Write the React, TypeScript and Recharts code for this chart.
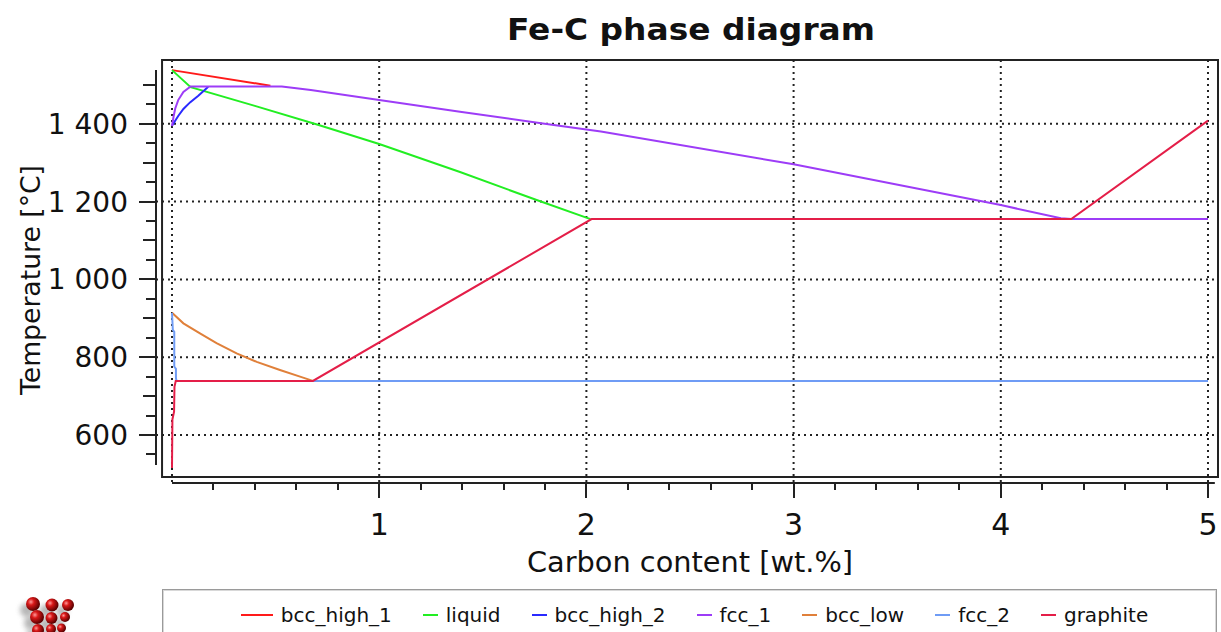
import React from "react";
import {
  LineChart,
  Line,
  XAxis,
  YAxis,
  CartesianGrid,
  ReferenceArea,
  ReferenceLine,
} from "recharts";

const SERIES_NAMES = ["bcc_high_1", "liquid", "bcc_high_2", "fcc_1", "bcc_low", "fcc_2", "graphite"];
const SERIES_COLORS = ["#ff1a1a", "#22ee22", "#2a2aff", "#9d3cf7", "#e0803a", "#6f9cf5", "#e41e48"];

// phase boundaries: carbon wt.% and temperature in degC
const BCC_HIGH_1_C = [0, 0.475];
const BCC_HIGH_1_T = [1538, 1498];
const LIQUID_C = [0, 0.09, 0.4, 0.7, 1.0, 1.39, 1.76, 2.02];
const LIQUID_T = [1538, 1494, 1446, 1398, 1348, 1276, 1204, 1155];
const BCC_HIGH_2_C = [0, 0.03, 0.055, 0.087, 0.127, 0.175];
const BCC_HIGH_2_T = [1395, 1420, 1438, 1455, 1472, 1495];
const FCC_1_C = [0, 0.008, 0.016, 0.03, 0.055, 0.09, 0.53, 0.67, 1.0, 1.39, 1.79, 2.07, 3.0, 4.0, 4.29, 4.34, 5.0];
const FCC_1_T = [1394, 1420, 1440, 1461, 1482, 1496, 1496, 1487, 1461, 1431, 1401, 1380, 1296, 1191, 1157, 1155, 1155];
const BCC_LOW_C = [0, 0.055, 0.135, 0.215, 0.312, 0.409, 0.521, 0.618, 0.68];
const BCC_LOW_T = [914, 887, 861, 836, 810, 788, 767, 750, 739];
const FCC_2_C = [0, 0.004, 0.011, 0.011, 0.019, 0.019, 0.022, 5.0];
const FCC_2_T = [914, 870, 865, 776, 770, 746, 739, 739];
const GRAPHITE_C = [0, 0.002, 0.01, 0.012, 0.018, 0.68, 2.025, 4.34, 5.0];
const GRAPHITE_T = [515, 640, 660, 724, 739, 739, 1155, 1155, 1408];

const X_LABEL_VALUES = [1, 2, 3, 4, 5];
const X_LABELS = ["1", "2", "3", "4", "5"];
const Y_LABEL_VALUES = [600, 800, 1000, 1200, 1400];
const Y_LABELS = ["600", "800", "1 000", "1 200", "1 400"];

const X_MIN = -0.0772;
const X_MAX = 5.0483;
const Y_MIN = 476.6;
const Y_MAX = 1564;

const xTicks = Array.from({ length: 25 }, (_, i) => Math.round((i + 1) * 2) / 10);
const yTicks = Array.from({ length: 20 }, (_, i) => 550 + i * 50);

const zip = (c: number[], t: number[]) => c.map((v, i) => ({ c: v, t: t[i] }));
const SERIES_DATA = [
  zip(BCC_HIGH_1_C, BCC_HIGH_1_T),
  zip(LIQUID_C, LIQUID_T),
  zip(BCC_HIGH_2_C, BCC_HIGH_2_T),
  zip(FCC_1_C, FCC_1_T),
  zip(BCC_LOW_C, BCC_LOW_T),
  zip(FCC_2_C, FCC_2_T),
  zip(GRAPHITE_C, GRAPHITE_T),
];

const FONT = "'DejaVu Sans', Tahoma, sans-serif";
const INK = "#222";

const XTick = (props: any) => {
  const { x, y, payload } = props;
  const v = payload.value;
  const idx = X_LABEL_VALUES.indexOf(v);
  const len = idx >= 0 ? 15 : 7;
  return (
    <g>
      <line x1={x} x2={x} y1={y} y2={y + len} stroke={INK} strokeWidth={2} shapeRendering="crispEdges" />
      {idx >= 0 && (
        <text x={x} y={y + 52} textAnchor="middle" fontSize={30} fontFamily={FONT} fill="#111">
          {X_LABELS[idx]}
        </text>
      )}
    </g>
  );
};

const YTick = (props: any) => {
  const { x, y, payload } = props;
  const v = payload.value;
  const idx = Y_LABEL_VALUES.indexOf(v);
  const len = idx >= 0 ? 17 : v % 100 === 0 ? 13 : 10;
  return (
    <g>
      <line x1={x - len} x2={x} y1={y} y2={y} stroke={INK} strokeWidth={2} shapeRendering="crispEdges" />
      {idx >= 0 && (
        <text x={x - 28} y={y + 10} textAnchor="end" fontSize={28} fontFamily={FONT} fill="#111">
          {Y_LABELS[idx]}
        </text>
      )}
    </g>
  );
};

function Logo() {
  const balls = [
    [33, 604, 7], [52, 605, 6.5], [68, 605, 6],
    [37, 617, 7], [51.5, 618, 6], [65, 617, 5],
    [38, 630, 6], [51, 629, 5], [61.5, 628, 4.5],
  ];
  return (
    <g>
      <defs>
        <radialGradient id="ball" cx="35%" cy="35%" r="65%">
          <stop offset="0%" stopColor="#ff9a9a" />
          <stop offset="35%" stopColor="#d81818" />
          <stop offset="100%" stopColor="#5a0000" />
        </radialGradient>
        <filter id="blur" x="-50%" y="-50%" width="200%" height="200%">
          <feGaussianBlur stdDeviation="2.5" />
        </filter>
      </defs>
      {balls.map(([cx, cy, r], i) => (
        <circle key={`s${i}`} cx={cx - 6} cy={cy + 6} r={r} fill="#888" opacity={0.6} filter="url(#blur)" />
      ))}
      {balls.map(([cx, cy, r], i) => (
        <circle key={`b${i}`} cx={cx} cy={cy} r={r} fill="url(#ball)" />
      ))}
    </g>
  );
}

export default function App() {
  return (
    <div
      style={{
        position: "absolute",
        left: 0,
        top: 0,
        width: 1221,
        height: 632,
        background: "#fff",
        overflow: "hidden",
        fontFamily: FONT,
      }}
    >
      <LineChart width={1221} height={632} margin={{ top: 60, right: 3, left: 0, bottom: 0 }}>
        <CartesianGrid
          horizontalValues={Y_LABEL_VALUES}
          verticalValues={[0, ...X_LABEL_VALUES]}
          stroke={INK}
          strokeWidth={2}
          strokeDasharray="2 4"
        />
        <XAxis
          dataKey="c"
          type="number"
          domain={[X_MIN, X_MAX]}
          allowDataOverflow
          ticks={xTicks}
          interval={0}
          tick={<XTick />}
          tickLine={false}
          tickSize={0}
          tickMargin={0}
          axisLine={false}
          height={149}
        />
        <YAxis
          dataKey="t"
          type="number"
          domain={[Y_MIN, Y_MAX]}
          allowDataOverflow
          ticks={yTicks}
          interval={0}
          tick={<YTick />}
          tickLine={false}
          tickSize={0}
          tickMargin={0}
          axisLine={false}
          width={156}
        />
        <ReferenceArea
          x1={-0.048}
          x2={X_MAX}
          y1={492}
          y2={Y_MAX}
          fill="none"
          stroke={INK}
          strokeWidth={2}
          ifOverflow="visible"
        />
        <ReferenceLine
          segment={[{ x: X_MIN, y: 523 }, { x: X_MIN, y: 1538 }]}
          stroke={INK}
          strokeWidth={2}
          ifOverflow="visible"
        />
        <ReferenceLine
          segment={[{ x: 0, y: Y_MIN }, { x: 5.033, y: Y_MIN }]}
          stroke={INK}
          strokeWidth={2}
          ifOverflow="visible"
        />
        {SERIES_DATA.map((d, i) => (
          <Line
            key={SERIES_NAMES[i]}
            data={d}
            dataKey="t"
            name={SERIES_NAMES[i]}
            type="linear"
            stroke={SERIES_COLORS[i]}
            strokeWidth={2}
            dot={false}
            activeDot={false}
            isAnimationActive={false}
          />
        ))}
      </LineChart>

      <svg
        width={1221}
        height={632}
        style={{ position: "absolute", left: 0, top: 0, pointerEvents: "none" }}
      >
        <text x={691} y={40} textAnchor="middle" fontSize={31} fontWeight="bold" fontFamily={FONT} fill="#111" textLength={368} lengthAdjust="spacingAndGlyphs">
          Fe-C phase diagram
        </text>
        <text
          transform="translate(40,280) rotate(-90)"
          textAnchor="middle"
          fontSize={27}
          fontFamily={FONT}
          fill="#111"
          textLength={230}
          lengthAdjust="spacingAndGlyphs"
        >
          Temperature [°C]
        </text>
        <text x={690} y={572} textAnchor="middle" fontSize={28} fontFamily={FONT} fill="#111" textLength={326} lengthAdjust="spacingAndGlyphs">
          Carbon content [wt.%]
        </text>
        <Logo />
      </svg>

      <div
        style={{
          position: "absolute",
          left: 162,
          top: 589,
          width: 1055,
          height: 60,
          border: "1px solid #9a9a9a",
          boxShadow: "inset 0 0 0 1px #d8d8d8",
          boxSizing: "border-box",
          display: "flex",
          justifyContent: "center",
          alignItems: "flex-start",
          paddingTop: 14,
          paddingLeft: 10,
          gap: 31,
          fontSize: 20,
          color: "#111",
        }}
      >
        {SERIES_NAMES.map((name, i) => (
          <div key={name} style={{ display: "flex", alignItems: "center", height: 22 }}>
            <span
              style={{
                display: "inline-block",
                width: i === 0 ? 32 : 15,
                height: 2,
                background: SERIES_COLORS[i],
                marginRight: 8,
              }}
            />
            <span style={{ whiteSpace: "nowrap" }}>{name}</span>
          </div>
        ))}
      </div>
    </div>
  );
}
